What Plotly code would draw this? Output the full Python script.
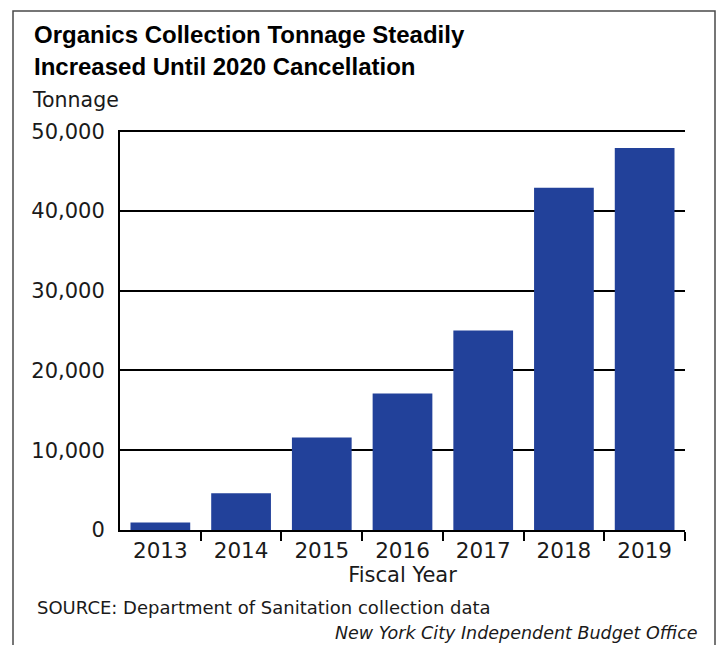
import plotly.graph_objects as go

years = ["2013", "2014", "2015", "2016", "2017", "2018", "2019"]
tonnage = [950, 4600, 11600, 17100, 25000, 42900, 47900]
y_ticks = [0, 10000, 20000, 30000, 40000, 50000]
y_tick_labels = ["0", "10,000", "20,000", "30,000", "40,000", "50,000"]
y_max = 50150

title_lines = ["Organics Collection Tonnage Steadily", "Increased Until 2020 Cancellation"]
source_text = "SOURCE: Department of Sanitation collection data"
credit_text = "New York City Independent Budget Office"

W, H = 717, 645
L, R, T, B = 120, 685, 130, 530

def fx(px):
    return (px - L) / (R - L)

def fy(py):
    return (B - py) / (B - T)

TXT = "#1a1a1a"

fig = go.Figure(go.Bar(
    x=years, y=tonnage,
    marker=dict(color="#22419A", line=dict(width=0)),
    hoverinfo="skip",
))

fig.update_layout(
    width=W, height=H,
    margin=dict(l=L, r=W - R, t=T, b=H - B),
    plot_bgcolor="white", paper_bgcolor="white",
    showlegend=False,
    bargap=0.26,
    font=dict(family="DejaVu Sans", size=20, color=TXT),
)

fig.update_xaxes(
    type="category",
    showline=True, linecolor="black", linewidth=2,
    ticks="outside", tickson="boundaries", ticklen=9, tickwidth=2, tickcolor="black",
    showgrid=False,
    tickfont=dict(family="DejaVu Sans", size=21.5, color=TXT),
    title=dict(text="Fiscal Year", font=dict(family="DejaVu Sans", size=21, color=TXT), standoff=6),
)

fig.update_yaxes(
    range=[0, y_max],
    tickvals=y_ticks, ticktext=y_tick_labels,
    showline=True, linecolor="black", linewidth=2,
    showgrid=True, gridcolor="black", gridwidth=2,
    zeroline=False,
    ticks="", ticklabelstandoff=9,
    tickfont=dict(family="DejaVu Sans", size=21, color=TXT),
)

title_font = dict(family="Liberation Sans", size=24, color="black", weight="bold")
annotations = [
    dict(text=title_lines[0], x=fx(32), y=fy(34), xanchor="left", yanchor="middle", font=title_font),
    dict(text=title_lines[1], x=fx(32), y=fy(66), xanchor="left", yanchor="middle", font=title_font),
    dict(text="Tonnage", x=fx(30), y=fy(100), xanchor="left", yanchor="middle",
         font=dict(family="DejaVu Sans", size=20.5, color=TXT)),
    dict(text=source_text, x=fx(35), y=fy(607), xanchor="left", yanchor="middle",
         font=dict(family="DejaVu Sans", size=18, color=TXT)),
    dict(text="<i>" + credit_text + "</i>", x=fx(700), y=fy(633), xanchor="right", yanchor="middle",
         font=dict(family="DejaVu Sans", size=17.5, color=TXT)),
]
for a in annotations:
    a.update(xref="paper", yref="paper", showarrow=False)
fig.update_layout(annotations=annotations)

fig.add_shape(type="rect", xref="paper", yref="paper",
              x0=fx(13), x1=fx(715), y0=fy(680), y1=fy(11),
              line=dict(color="#4a4a4a", width=1.5), layer="below")
# hide the left-most boundary tick (reference has none there)
fig.add_shape(type="rect", xref="paper", yref="paper",
              x0=fx(117), x1=fx(123), y0=fy(542), y1=fy(532),
              line=dict(width=0), fillcolor="white", layer="above")

fig.write_html("out.html")
